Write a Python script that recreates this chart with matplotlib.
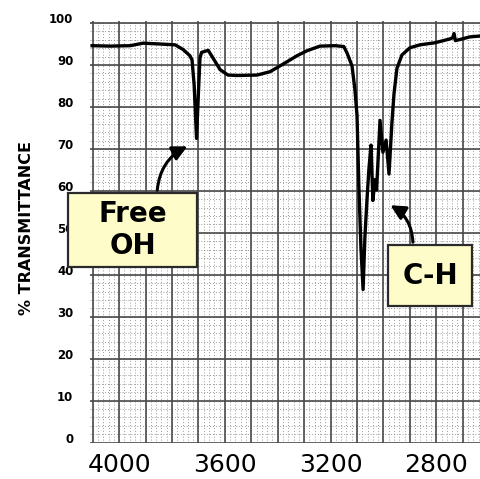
import numpy as np
import matplotlib
matplotlib.use("Agg")
import matplotlib.pyplot as plt
from matplotlib.patches import Rectangle

# ---- data ----
wavenumber = [4102, 4034, 3958, 3909, 3845, 3788, 3758, 3732, 3724, 3716,
              3707, 3700, 3694, 3688, 3663, 3645, 3618, 3588, 3554, 3478,
              3429, 3380, 3327, 3289, 3240, 3183, 3150, 3138, 3119, 3108,
              3100, 3093, 3085, 3077, 3070, 3062, 3055, 3047, 3040, 3032,
              3026, 3013, 3002, 2990, 2979, 2968, 2960, 2949, 2930, 2900,
              2862, 2805, 2749, 2738, 2733, 2728, 2703, 2673, 2635]
transmittance = [93.4, 93.3, 93.4, 94.0, 93.8, 93.6, 92.5, 91.0, 90.0, 84.0,
                 71.3, 82.0, 90.5, 91.8, 92.3, 90.5, 87.7, 86.4, 86.3, 86.4,
                 87.2, 89.0, 91.0, 92.2, 93.3, 93.4, 93.2, 91.7, 88.6, 83.0,
                 76.8, 60.0, 45.0, 35.3, 48.0, 57.0, 64.0, 69.7, 56.5, 61.5,
                 59.0, 75.6, 68.0, 70.9, 62.8, 75.0, 82.0, 88.0, 91.2, 92.9,
                 93.6, 94.1, 95.0, 95.3, 96.3, 94.6, 95.0, 95.5, 95.7]

x_ticks = [4000, 3600, 3200, 2800]
y_ticks = [0, 10, 20, 30, 40, 50, 60, 70, 80, 90, 100]
y_label = "% TRANSMITTANCE"
annot_freeoh = "Free\nOH"
annot_ch = "C-H"
freeoh_tip = (3732, 69.7)
ch_tip = (2983, 55.7)

W, H = 481, 479
fig = plt.figure(figsize=(W / 100, H / 100), dpi=100)
ax = fig.add_axes([90 / W, 1 - 443 / H, (W - 90) / W, (443 - 18) / H])
ax.set_xlim(4110, 2631)
ax.set_ylim(-1.3, 99.4)

# graph-paper texture
ax.vlines(np.arange(4100, 2630, -20), -1.3, 99.4, colors="#9a9a9a",
          linestyles=(0, (1, 2)), lw=0.7, zorder=1)
ax.hlines(np.arange(-1.2, 99.4, 2), 4110, 2631, colors="#9a9a9a",
          linestyles=(0, (1, 2)), lw=0.7, zorder=1)
ax.vlines(np.arange(4100, 2630, -100), -1.3, 99.4, colors="#4a4a4a",
          lw=1.2, zorder=2)
ax.hlines(np.arange(-1.2, 99.4, 10), 4110, 2631, colors="#4a4a4a",
          lw=1.2, zorder=2)

ax.plot(wavenumber, transmittance, color="black", lw=2.4, zorder=5,
        solid_joinstyle="round")

for s in ax.spines.values():
    s.set_visible(False)
ax.set_xticks(x_ticks)
ax.set_xticklabels([str(v) for v in x_ticks], fontsize=18)
ax.set_yticks(y_ticks)
ax.set_yticklabels([str(v) for v in y_ticks], fontsize=8.5, fontweight="bold")
ax.tick_params(axis="both", length=0)
ax.tick_params(axis="x", pad=7)
ax.tick_params(axis="y", pad=12)

fig.text(27 / W, 1 - 228 / H, y_label, rotation=90, ha="center", va="center",
         fontsize=11.5, fontweight="bold")

# arrows
ax.annotate("", xy=freeoh_tip, xycoords="data",
            xytext=(157 / W, 1 - 193 / H), textcoords="figure fraction",
            arrowprops=dict(arrowstyle="-|>", color="black", lw=2.2,
                            mutation_scale=22,
                            connectionstyle="arc3,rad=-0.3"), zorder=6)
ax.annotate("", xy=ch_tip, xycoords="data",
            xytext=(413 / W, 1 - 245 / H), textcoords="figure fraction",
            arrowprops=dict(arrowstyle="-|>", color="black", lw=2.2,
                            mutation_scale=22,
                            connectionstyle="arc3,rad=0.3"), zorder=6)

# boxes
def box(x0, y0, x1, y1, text):
    r = Rectangle((x0 / W, 1 - y1 / H), (x1 - x0) / W, (y1 - y0) / H,
                  transform=fig.transFigure, facecolor="#fefcc8",
                  edgecolor="#2a2a2a", lw=1.6, zorder=10)
    fig.add_artist(r)
    fig.text((x0 + x1) / 2 / W, 1 - (y0 + y1) / 2 / H, text, ha="center",
             va="center", fontsize=20, fontweight="bold", linespacing=1.15,
             zorder=11)

box(68, 193, 197, 267, annot_freeoh)
box(388, 245, 472, 306, annot_ch)

fig.savefig("out.png", dpi=100)
